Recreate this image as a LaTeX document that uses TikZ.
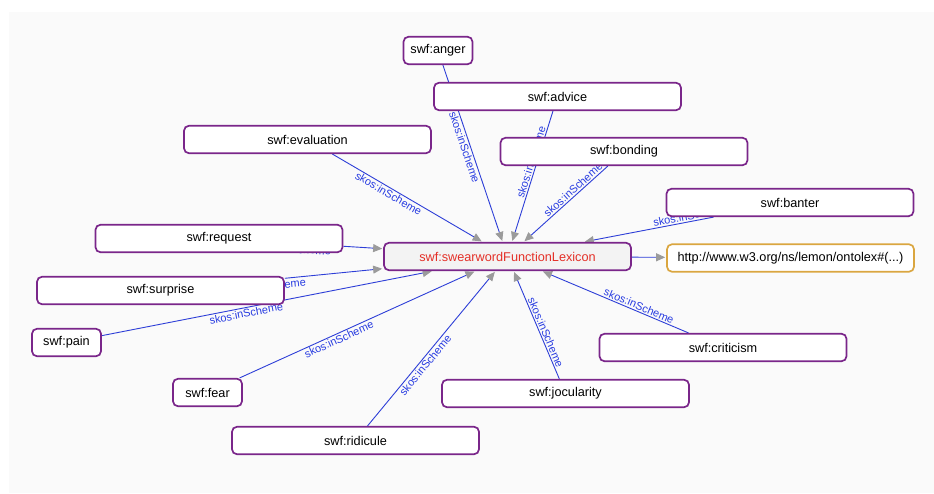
\documentclass[tikz,border=0pt]{standalone}
\usepackage{fontspec}
\setmainfont{Liberation Sans}
\usetikzlibrary{arrows.meta}
\definecolor{bggray}{RGB}{250,250,250}
\definecolor{nodepurple}{RGB}{122,38,138}
\definecolor{httporange}{RGB}{218,166,64}
\definecolor{linkblue}{RGB}{45,62,215}
\definecolor{labelblue}{RGB}{40,60,225}
\definecolor{arrowgray}{RGB}{155,155,155}
\definecolor{lexfill}{RGB}{243,243,243}
\definecolor{lexred}{RGB}{228,48,40}
\pgfdeclarelayer{bg}
\pgfdeclarelayer{edges}
\pgfsetlayers{bg,edges,main}
\begin{document}
\begin{tikzpicture}[x=1pt,y=-1pt,
  box/.style={draw=nodepurple, line width=1.7pt, rounded corners=5pt, fill=white,
    minimum height=27.5pt, inner sep=0pt, font=\fontsize{12.7}{14}\selectfont, text=black},
  wide/.style={box, minimum width=247pt},
  small/.style={box, minimum width=69pt},
  link/.style={draw=linkblue, line width=0.9pt,
    -{Triangle[length=9pt,width=8pt,color=arrowgray]}, shorten >=1pt},
  lbl/.style={font=\fontsize{11}{12}\selectfont, text=labelblue, sloped, inner sep=1.5pt}
]
\useasboundingbox (0,0) rectangle (934,493);
\begin{pgfonlayer}{bg}
  \fill[white] (0,0) rectangle (934,493);
  \fill[bggray] (9,12) rectangle (934,493);
\end{pgfonlayer}

% nodes
\node[small] (anger) at (438,50.5) {swf:anger};
\node[wide] (advice) at (557.5,96.5) {swf:advice};
\node[wide] (bonding) at (624,151.5) {swf:bonding};
\node[wide] (evaluation) at (307.5,139.5) {swf:evaluation};
\node[wide] (banter) at (790,202.5) {swf:banter};
\node[wide] (request) at (219,238.5) {swf:request};
\node[wide, fill=lexfill, text=lexred] (lex) at (507.5,256.5) {swf:swearwordFunctionLexicon};
\node[wide, draw=httporange] (http) at (790.5,258) {http://www.w3.org/ns/lemon/ontolex\#(...)};
\node[wide] (surprise) at (160.5,290.5) {swf:surprise};
\node[small] (pain) at (66.5,342.5) {swf:pain};
\node[wide] (criticism) at (723,347.5) {swf:criticism};
\node[small] (fear) at (207.5,392.5) {swf:fear};
\node[wide] (jocularity) at (565.5,393.5) {swf:jocularity};
\node[wide] (ridicule) at (355.5,440.5) {swf:ridicule};

\begin{pgfonlayer}{edges}
  \draw[link] (anger) -- (lex);
  \path (anger.center) -- node[lbl,pos=0.46,below]{skos:inScheme} (lex.center);
  \draw[link] (advice) -- (lex);
  \path (advice.center) -- node[lbl,pos=0.42,above]{skos:inScheme} (lex.center);
  \draw[link] (bonding) -- (lex);
  \path (bonding.center) -- node[lbl,pos=0.405,above]{skos:inScheme} (lex.center);
  \draw[link] (evaluation) -- (lex);
  \path (evaluation.center) -- node[lbl,pos=0.42,below]{skos:inScheme} (lex.center);
  \draw[link] (banter) -- (lex);
  \path (banter.center) -- node[lbl,pos=0.35,above]{skos:inScheme} (lex.center);
  \draw[link] (request) -- (lex);
  \path (request.center) -- node[lbl,pos=0.26,below]{skos:inScheme} (lex.center);
  \draw[link] (surprise) -- (lex);
  \path (surprise.center) -- node[lbl,pos=0.31,below]{skos:inScheme} (lex.center);
  \draw[link] (pain) -- (lex);
  \path (pain.center) -- node[lbl,pos=0.405,below]{skos:inScheme} (lex.center);
  \draw[link] (fear) -- (lex);
  \path (fear.center) -- node[lbl,pos=0.43,below]{skos:inScheme} (lex.center);
  \draw[link] (ridicule) -- (lex);
  \path (ridicule.center) -- node[lbl,pos=0.43,below]{skos:inScheme} (lex.center);
  \draw[link] (jocularity) -- (lex);
  \path (jocularity.center) -- node[lbl,pos=0.43,above]{skos:inScheme} (lex.center);
  \draw[link] (criticism) -- (lex);
  \path (criticism.center) -- node[lbl,pos=0.40,above]{skos:inScheme} (lex.center);
  \draw[link] (lex) -- (http);
\end{pgfonlayer}
\end{tikzpicture}
\end{document}
